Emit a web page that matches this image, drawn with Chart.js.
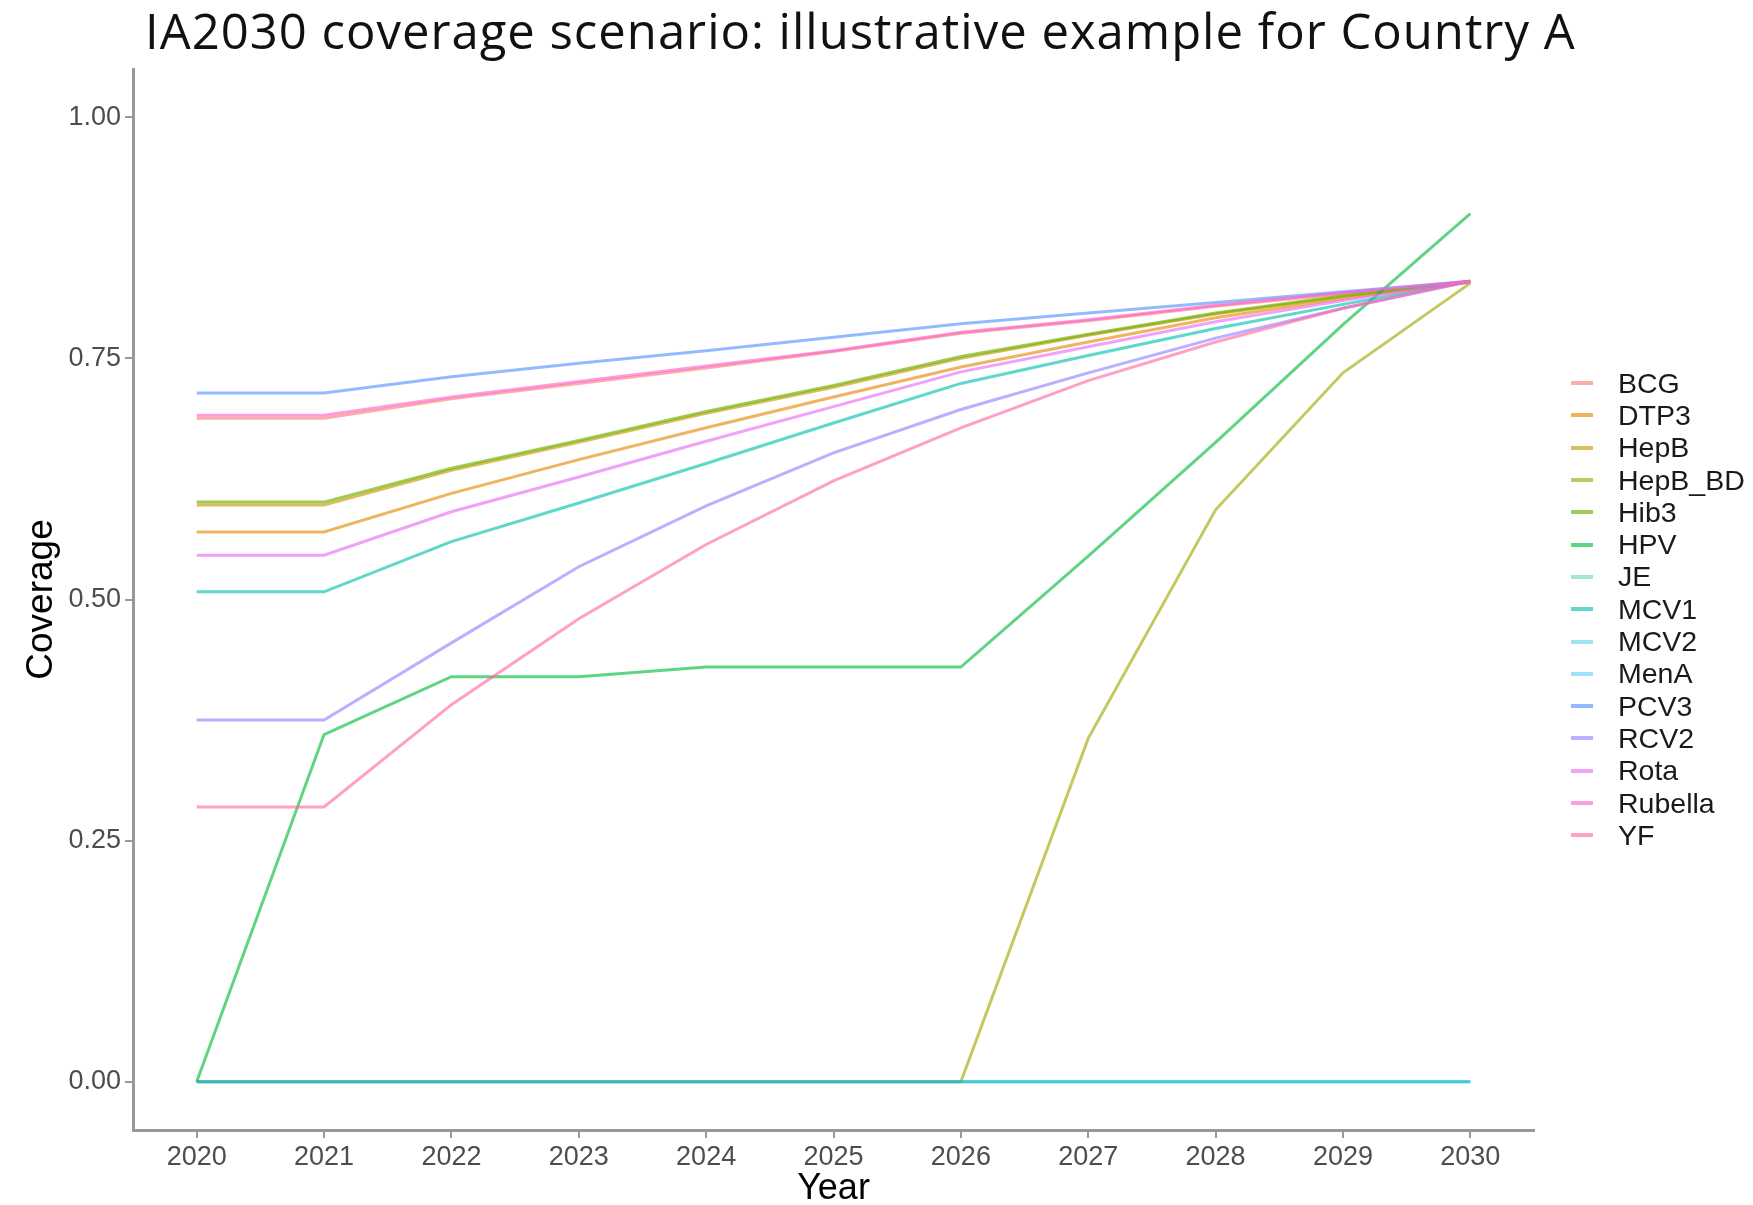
<!DOCTYPE html>
<html>
<head>
<meta charset="utf-8">
<script src="https://cdn.jsdelivr.net/npm/chart.js@4.4.0/dist/chart.umd.min.js"></script>
<style>
  html, body { margin: 0; padding: 0; background: #fff; }
  #wrap { position: relative; width: 1753px; height: 1205px; }
  #chart { position: absolute; left: 0; top: 0; }
  #title { position: absolute; left: 145px; top: -3px; font-family: 'Open Sans', sans-serif; font-size: 49px; letter-spacing: 1px; color: #111; white-space: nowrap; }
  #legend { position: absolute; left: 1571px; top: 367px; font-family: 'Liberation Sans', Arial, sans-serif; font-size: 28.5px; color: #1a1a1a; }
  .row { height: 32.3px; display: flex; align-items: center; }
  .key { width: 22px; height: 4px; margin-right: 25px; }
</style>
</head>
<body>
<div id="wrap">
  <canvas id="chart" width="1753" height="1205"></canvas>
  <div id="title">IA2030 coverage scenario: illustrative example for Country A</div>
  <div id="legend"></div>
</div>
<script>
// x categories
const years = ['2020', '2021', '2022', '2023', '2024', '2025', '2026', '2027', '2028', '2029', '2030'];
const yTicks = [0, 0.25, 0.5, 0.75, 1.0];

const vaccines = ['BCG', 'DTP3', 'HepB', 'HepB_BD', 'Hib3', 'HPV', 'JE', 'MCV1', 'MCV2', 'MenA', 'PCV3', 'RCV2', 'Rota', 'Rubella', 'YF'];

// coverage per vaccine, 2020..2030
const bcg     = [0.688, 0.688, 0.708, 0.724, 0.740, 0.757, 0.776, 0.789, 0.804, 0.817, 0.829];
const dtp3    = [0.570, 0.570, 0.610, 0.645, 0.678, 0.710, 0.741, 0.767, 0.792, 0.812, 0.830];
const hepb    = [0.598, 0.598, 0.634, 0.663, 0.693, 0.720, 0.750, 0.774, 0.796, 0.814, 0.829];
const hepbBd  = [0, 0, 0, 0, 0, 0, 0, 0.356, 0.593, 0.735, 0.828];
const hib3    = [0.601, 0.601, 0.636, 0.665, 0.695, 0.722, 0.752, 0.775, 0.797, 0.815, 0.830];
const hpv     = [0, 0.360, 0.420, 0.420, 0.430, 0.430, 0.430, 0.545, 0.663, 0.785, 0.900];
const je      = [0, 0, 0, 0, 0, 0, 0, 0, 0, 0, 0];
const mcv1    = [0.508, 0.508, 0.560, 0.600, 0.641, 0.683, 0.724, 0.753, 0.781, 0.806, 0.830];
const mcv2    = [0, 0, 0, 0, 0, 0, 0, 0, 0, 0, 0];
const menA    = [0, 0, 0, 0, 0, 0, 0, 0, 0, 0, 0];
const pcv3    = [0.714, 0.714, 0.731, 0.745, 0.758, 0.772, 0.786, 0.797, 0.808, 0.819, 0.830];
const rcv2    = [0.375, 0.375, 0.455, 0.534, 0.597, 0.652, 0.697, 0.735, 0.771, 0.802, 0.830];
const rota    = [0.546, 0.546, 0.591, 0.627, 0.664, 0.700, 0.736, 0.762, 0.788, 0.810, 0.830];
const rubella = [0.691, 0.691, 0.710, 0.726, 0.742, 0.758, 0.777, 0.790, 0.805, 0.818, 0.830];
const yf      = [0.285, 0.285, 0.391, 0.480, 0.557, 0.623, 0.678, 0.727, 0.767, 0.802, 0.830];

const seriesData = [bcg, dtp3, hepb, hepbBd, hib3, hpv, je, mcv1, mcv2, menA, pcv3, rcv2, rota, rubella, yf];

// ggplot hue palette, drawn half transparent
const colors = ['#F8766D99', '#E58700A0', '#C99800A0', '#A3A500A0', '#6BB100A8', '#00BA38A0', '#00BF7D60', '#00C0AFA0', '#00BCD860', '#00B0F660', '#619CFFB0', '#9A8CFFB0', '#E76BF3A0', '#FD61D1A0', '#FF67A4A0'];

const datasets = vaccines.map((name, i) => ({
  label: name,
  data: seriesData[i],
  borderColor: colors[i],
  backgroundColor: colors[i],
  borderWidth: 3,
  pointRadius: 0,
  tension: 0,
  order: -i, // later series on top, like ggplot
}));

const tickFont = { family: 'Liberation Sans', size: 27 };
const axisGrid = { display: true, drawOnChartArea: false, drawTicks: true, tickLength: 8, color: '#999', lineWidth: 2, offset: false };
const axisBorder = { display: true, color: '#999', width: 3 };

new Chart(document.getElementById('chart').getContext('2d'), {
  type: 'line',
  data: { labels: years, datasets: datasets },
  options: {
    responsive: false,
    animation: false,
    layout: { padding: { top: 69, right: 219, left: 0, bottom: 0 } },
    plugins: { legend: { display: false }, tooltip: { enabled: false } },
    scales: {
      x: {
        type: 'category',
        offset: true,
        grid: axisGrid,
        border: axisBorder,
        ticks: { color: '#4d4d4d', font: tickFont, padding: 3, maxRotation: 0, autoSkip: false },
        title: { display: true, text: 'Year', color: '#000', font: { family: 'Liberation Sans', size: 36 }, padding: { top: 0, bottom: -6 } },
        afterFit(scale) { scale.height = 75; },
      },
      y: {
        min: -0.05,
        max: 1.05,
        afterBuildTicks(scale) { scale.ticks = yTicks.map(v => ({ value: v })); },
        grid: axisGrid,
        border: axisBorder,
        ticks: { color: '#4d4d4d', font: tickFont, padding: 4, callback: v => v.toFixed(2) },
        title: { display: true, text: 'Coverage', color: '#000', font: { family: 'Liberation Sans', size: 37 }, padding: { top: 20, bottom: 0 } },
        afterFit(scale) { scale.width = 133; },
      },
    },
  },
});

// legend built from the same names and colours
const legend = document.getElementById('legend');
vaccines.forEach((name, i) => {
  const row = document.createElement('div');
  row.className = 'row';
  const key = document.createElement('span');
  key.className = 'key';
  key.style.background = colors[i];
  const txt = document.createElement('span');
  txt.textContent = name;
  row.appendChild(key);
  row.appendChild(txt);
  legend.appendChild(row);
});
</script>
</body>
</html>
